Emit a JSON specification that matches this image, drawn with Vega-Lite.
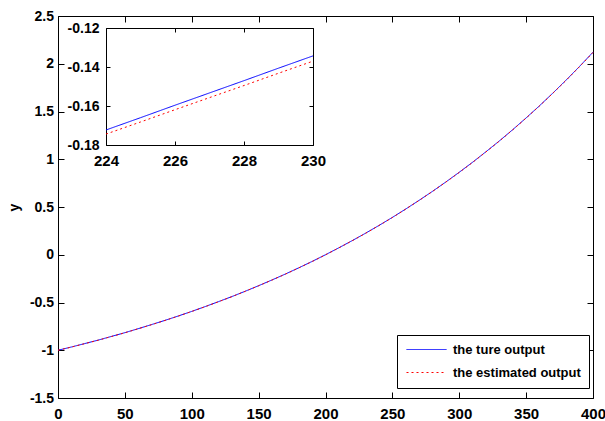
{
  "$schema": "https://vega.github.io/schema/vega-lite/v6.json",
  "width": 535,
  "height": 382,
  "autosize": {"type": "none"},
  "padding": {"left": 58, "top": 16, "right": 12, "bottom": 23},
  "background": "white",
  "config": {
    "view": {"stroke": null},
    "axis": {
      "grid": false,
      "domainColor": "black",
      "domainWidth": 1,
      "tickColor": "black",
      "tickWidth": 1,
      "labelFont": "Liberation Sans",
      "labelFontWeight": "bold",
      "labelFontSize": 14,
      "labelColor": "black",
      "labelFlush": false,
      "labelOverlap": false,
      "titleFont": "Liberation Sans",
      "titleFontWeight": "bold",
      "titleFontSize": 14,
      "titleColor": "black"
    },
    "legend": {
      "orient": "none",
      "legendX": 339,
      "legendY": 319,
      "fillColor": "white",
      "strokeColor": "black",
      "padding": 8,
      "rowPadding": 9,
      "symbolType": "M-1,0L7,0",
      "symbolSize": 100,
      "symbolStrokeWidth": 1,
      "labelOffset": 35,
      "labelFont": "Liberation Sans",
      "labelFontWeight": "bold",
      "labelFontSize": 13,
      "labelColor": "black",
      "labelLimit": 300
    }
  },
  "datasets": {
    "main": [
      {"x": 0, "y": -1.000, "s": "the ture output"},
      {"x": 10, "y": -0.966, "s": "the ture output"},
      {"x": 20, "y": -0.930, "s": "the ture output"},
      {"x": 30, "y": -0.894, "s": "the ture output"},
      {"x": 40, "y": -0.855, "s": "the ture output"},
      {"x": 50, "y": -0.816, "s": "the ture output"},
      {"x": 60, "y": -0.774, "s": "the ture output"},
      {"x": 70, "y": -0.731, "s": "the ture output"},
      {"x": 80, "y": -0.687, "s": "the ture output"},
      {"x": 90, "y": -0.641, "s": "the ture output"},
      {"x": 100, "y": -0.593, "s": "the ture output"},
      {"x": 110, "y": -0.543, "s": "the ture output"},
      {"x": 120, "y": -0.491, "s": "the ture output"},
      {"x": 130, "y": -0.438, "s": "the ture output"},
      {"x": 140, "y": -0.382, "s": "the ture output"},
      {"x": 150, "y": -0.324, "s": "the ture output"},
      {"x": 160, "y": -0.264, "s": "the ture output"},
      {"x": 170, "y": -0.202, "s": "the ture output"},
      {"x": 180, "y": -0.137, "s": "the ture output"},
      {"x": 190, "y": -0.070, "s": "the ture output"},
      {"x": 200, "y": 0.000, "s": "the ture output"},
      {"x": 210, "y": 0.073, "s": "the ture output"},
      {"x": 220, "y": 0.148, "s": "the ture output"},
      {"x": 230, "y": 0.226, "s": "the ture output"},
      {"x": 240, "y": 0.307, "s": "the ture output"},
      {"x": 250, "y": 0.391, "s": "the ture output"},
      {"x": 260, "y": 0.479, "s": "the ture output"},
      {"x": 270, "y": 0.570, "s": "the ture output"},
      {"x": 280, "y": 0.664, "s": "the ture output"},
      {"x": 290, "y": 0.762, "s": "the ture output"},
      {"x": 300, "y": 0.864, "s": "the ture output"},
      {"x": 310, "y": 0.969, "s": "the ture output"},
      {"x": 320, "y": 1.079, "s": "the ture output"},
      {"x": 330, "y": 1.192, "s": "the ture output"},
      {"x": 340, "y": 1.310, "s": "the ture output"},
      {"x": 350, "y": 1.433, "s": "the ture output"},
      {"x": 360, "y": 1.560, "s": "the ture output"},
      {"x": 370, "y": 1.693, "s": "the ture output"},
      {"x": 380, "y": 1.830, "s": "the ture output"},
      {"x": 390, "y": 1.973, "s": "the ture output"},
      {"x": 400, "y": 2.121, "s": "the ture output"},
      {"x": 0, "y": -1.000, "s": "the estimated output"},
      {"x": 10, "y": -0.967, "s": "the estimated output"},
      {"x": 20, "y": -0.931, "s": "the estimated output"},
      {"x": 30, "y": -0.895, "s": "the estimated output"},
      {"x": 40, "y": -0.856, "s": "the estimated output"},
      {"x": 50, "y": -0.817, "s": "the estimated output"},
      {"x": 60, "y": -0.775, "s": "the estimated output"},
      {"x": 70, "y": -0.732, "s": "the estimated output"},
      {"x": 80, "y": -0.688, "s": "the estimated output"},
      {"x": 90, "y": -0.642, "s": "the estimated output"},
      {"x": 100, "y": -0.594, "s": "the estimated output"},
      {"x": 110, "y": -0.544, "s": "the estimated output"},
      {"x": 120, "y": -0.492, "s": "the estimated output"},
      {"x": 130, "y": -0.439, "s": "the estimated output"},
      {"x": 140, "y": -0.383, "s": "the estimated output"},
      {"x": 150, "y": -0.325, "s": "the estimated output"},
      {"x": 160, "y": -0.265, "s": "the estimated output"},
      {"x": 170, "y": -0.203, "s": "the estimated output"},
      {"x": 180, "y": -0.138, "s": "the estimated output"},
      {"x": 190, "y": -0.071, "s": "the estimated output"},
      {"x": 200, "y": -0.001, "s": "the estimated output"},
      {"x": 210, "y": 0.072, "s": "the estimated output"},
      {"x": 220, "y": 0.147, "s": "the estimated output"},
      {"x": 230, "y": 0.225, "s": "the estimated output"},
      {"x": 240, "y": 0.306, "s": "the estimated output"},
      {"x": 250, "y": 0.390, "s": "the estimated output"},
      {"x": 260, "y": 0.478, "s": "the estimated output"},
      {"x": 270, "y": 0.569, "s": "the estimated output"},
      {"x": 280, "y": 0.663, "s": "the estimated output"},
      {"x": 290, "y": 0.761, "s": "the estimated output"},
      {"x": 300, "y": 0.862, "s": "the estimated output"},
      {"x": 310, "y": 0.967, "s": "the estimated output"},
      {"x": 320, "y": 1.077, "s": "the estimated output"},
      {"x": 330, "y": 1.190, "s": "the estimated output"},
      {"x": 340, "y": 1.308, "s": "the estimated output"},
      {"x": 350, "y": 1.431, "s": "the estimated output"},
      {"x": 360, "y": 1.558, "s": "the estimated output"},
      {"x": 370, "y": 1.691, "s": "the estimated output"},
      {"x": 380, "y": 1.828, "s": "the estimated output"},
      {"x": 390, "y": 1.970, "s": "the estimated output"},
      {"x": 400, "y": 2.118, "s": "the estimated output"}
    ],
    "inset": [
      {"x": 224, "y": -0.1723, "s": "the ture output"},
      {"x": 225, "y": -0.1660, "s": "the ture output"},
      {"x": 226, "y": -0.1596, "s": "the ture output"},
      {"x": 227, "y": -0.1533, "s": "the ture output"},
      {"x": 228, "y": -0.1470, "s": "the ture output"},
      {"x": 229, "y": -0.1406, "s": "the ture output"},
      {"x": 230, "y": -0.1343, "s": "the ture output"},
      {"x": 224, "y": -0.1744, "s": "the estimated output"},
      {"x": 225, "y": -0.1682, "s": "the estimated output"},
      {"x": 226, "y": -0.1619, "s": "the estimated output"},
      {"x": 227, "y": -0.1557, "s": "the estimated output"},
      {"x": 228, "y": -0.1495, "s": "the estimated output"},
      {"x": 229, "y": -0.1432, "s": "the estimated output"},
      {"x": 230, "y": -0.1370, "s": "the estimated output"}
    ]
  },
  "layer": [
    {
      "data": {"name": "main"},
      "transform": [{"filter": "datum.s === 'the ture output'"}],
      "mark": {"type": "line", "strokeWidth": 1},
      "encoding": {
        "x": {"field": "x", "type": "quantitative",
          "scale": {"domain": [0, 400], "nice": false, "zero": false},
          "axis": {"orient": "bottom", "title": null, "values": [0, 50, 100, 150, 200, 250, 300, 350, 400], "format": "d", "tickSize": -6, "labelPadding": 14, "labelFontSize": 15}},
        "y": {"field": "y", "type": "quantitative",
          "scale": {"domain": [-1.5, 2.5], "nice": false, "zero": false},
          "axis": {"orient": "left", "title": "y", "values": [-1.5, -1, -0.5, 0, 0.5, 1, 1.5, 2, 2.5], "format": "~g", "labelExpr": "replace(datum.label, '\u2212', '-')", "tickSize": -6, "labelPadding": 10.5, "titleX": -44, "titleY": 191, "titleAngle": -90, "titleAlign": "center", "titleBaseline": "middle"}},
        "color": {"field": "s", "type": "nominal", "title": null,
          "scale": {"domain": ["the ture output", "the estimated output"], "range": ["#0000ff", "#ff0000"]}},
        "strokeDash": {"field": "s", "type": "nominal", "title": null,
          "scale": {"domain": ["the ture output", "the estimated output"], "range": [[1, 0], [2, 3]]}}
      }
    },
    {
      "data": {"name": "main"},
      "transform": [{"filter": "datum.s === 'the estimated output'"}],
      "mark": {"type": "line", "strokeWidth": 1},
      "encoding": {
        "x": {"field": "x", "type": "quantitative",
          "scale": {"domain": [0, 400], "nice": false, "zero": false},
          "axis": {"orient": "top", "title": null, "values": [0, 50, 100, 150, 200, 250, 300, 350, 400], "labels": false, "tickSize": -6}},
        "y": {"field": "y", "type": "quantitative",
          "scale": {"domain": [-1.5, 2.5], "nice": false, "zero": false},
          "axis": {"orient": "right", "title": null, "values": [-1.5, -1, -0.5, 0, 0.5, 1, 1.5, 2, 2.5], "labels": false, "tickSize": -6}},
        "color": {"field": "s", "type": "nominal", "title": null,
          "scale": {"domain": ["the ture output", "the estimated output"], "range": ["#0000ff", "#ff0000"]}},
        "strokeDash": {"field": "s", "type": "nominal", "title": null,
          "scale": {"domain": ["the ture output", "the estimated output"], "range": [[1, 0], [2, 3]]}}
      }
    },
    {
      "data": {"name": "inset"},
      "transform": [{"filter": "datum.s === 'the ture output'"}],
      "mark": {"type": "line", "strokeWidth": 1},
      "encoding": {
        "x": {"field": "x", "type": "quantitative",
          "scale": {"domain": [224, 230], "range": [48, 255], "nice": false, "zero": false},
          "axis": {"orient": "bottom", "offset": -253, "title": null, "values": [224, 226, 228, 230], "format": "d", "tickSize": -4, "labelPadding": 12, "labelFontSize": 15}},
        "y": {"field": "y", "type": "quantitative",
          "scale": {"domain": [-0.18, -0.12], "range": [129, 12], "nice": false, "zero": false},
          "axis": {"orient": "left", "offset": -48, "title": null, "values": [-0.18, -0.16, -0.14, -0.12], "format": "~g", "labelExpr": "replace(datum.label, '\u2212', '-')", "tickSize": -4, "labelPadding": 11}},
        "color": {"field": "s", "type": "nominal", "title": null,
          "scale": {"domain": ["the ture output", "the estimated output"], "range": ["#0000ff", "#ff0000"]}},
        "strokeDash": {"field": "s", "type": "nominal", "title": null,
          "scale": {"domain": ["the ture output", "the estimated output"], "range": [[1, 0], [2, 3]]}}
      }
    },
    {
      "data": {"name": "inset"},
      "transform": [{"filter": "datum.s === 'the estimated output'"}],
      "mark": {"type": "line", "strokeWidth": 1},
      "encoding": {
        "x": {"field": "x", "type": "quantitative",
          "scale": {"domain": [224, 230], "range": [48, 255], "nice": false, "zero": false},
          "axis": {"orient": "top", "offset": -12, "title": null, "values": [224, 226, 228, 230], "labels": false, "tickSize": -4}},
        "y": {"field": "y", "type": "quantitative",
          "scale": {"domain": [-0.18, -0.12], "range": [129, 12], "nice": false, "zero": false},
          "axis": {"orient": "right", "offset": -280, "title": null, "values": [-0.18, -0.16, -0.14, -0.12], "labels": false, "tickSize": -4}},
        "color": {"field": "s", "type": "nominal", "title": null,
          "scale": {"domain": ["the ture output", "the estimated output"], "range": ["#0000ff", "#ff0000"]}},
        "strokeDash": {"field": "s", "type": "nominal", "title": null,
          "scale": {"domain": ["the ture output", "the estimated output"], "range": [[1, 0], [2, 3]]}}
      }
    }
  ],
  "resolve": {
    "scale": {"x": "independent", "y": "independent"},
    "axis": {"x": "independent", "y": "independent"}
  }
}
